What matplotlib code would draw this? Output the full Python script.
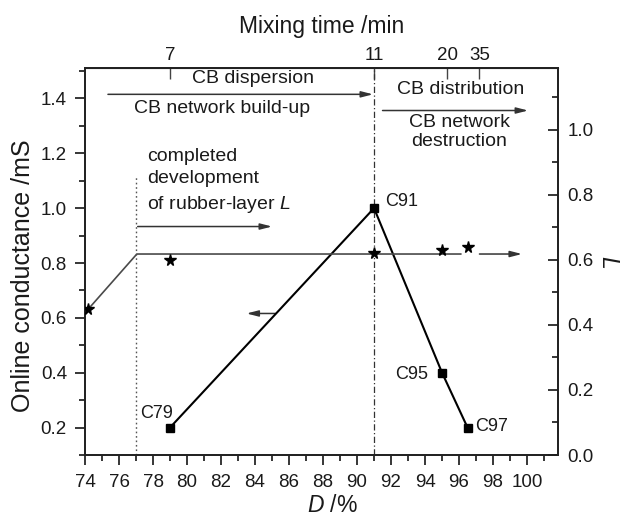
import matplotlib
matplotlib.use("Agg")
import matplotlib.pyplot as plt
from matplotlib.ticker import MultipleLocator

plt.rcParams['font.family'] = ['Liberation Sans', 'DejaVu Sans']
plt.rcParams['mathtext.fontset'] = 'custom'
plt.rcParams['mathtext.it'] = 'Liberation Sans:italic'
plt.rcParams['mathtext.rm'] = 'Liberation Sans'

# ---- data ----
D_cond = [79, 91, 95, 96.5]
conductance = [0.2, 1.0, 0.4, 0.2]
sample_labels = ["C79", "C91", "C95", "C97"]

D_L = [74.2, 79, 91, 95, 96.5]
L_values = [0.45, 0.60, 0.62, 0.63, 0.64]
L_trend_D = [74.3, 77.05, 96.1]
L_trend = [0.455, 0.618, 0.618]

mix_time_pos = [79, 91, 95.3, 97.2]
mix_time_labels = ["7", "11", "20", "35"]

TXT = '#1a1a1a'

fig = plt.figure(figsize=(6.25, 5.22), dpi=100)
ax = fig.add_axes([85/625, 1-455/522, (558-85)/625, (455-68)/522])
axr = ax.twinx()

ax.set_xlim(74, 101.82)
ax.set_ylim(0.1, 1.511)
axr.set_ylim(0, 1.19)

# conductance
ax.plot(D_cond, conductance, color='black', lw=1.5, marker='s', ms=5.5,
        mec='black', mfc='black', zorder=5)
# L values
axr.plot(L_trend_D, L_trend, color='#4a4a4a', lw=1.2, zorder=3)
axr.plot(D_L, L_values, ls='none', marker='*', ms=8.5, color='black', zorder=6)

# vertical lines
ax.plot([77, 77], [0.1, 1.112], color='#555555', lw=1.0, ls=(0, (1.2, 2)), zorder=2)
ax.axvline(91, color='#333333', lw=0.9, ls=(0, (5, 2, 1, 2)), zorder=2)

def arrow(a, x0, x1, y, color='#333333'):
    a.annotate('', xy=(x1, y), xytext=(x0, y),
               arrowprops=dict(arrowstyle='-|>,head_length=0.7,head_width=0.18',
                               color=color, lw=1.1, shrinkA=0, shrinkB=0))

arrow(ax, 75.35, 90.94, 1.415)
arrow(ax, 91.5, 100.06, 1.356)
arrow(ax, 77.1, 85.0, 0.933)
arrow(ax, 85.2, 83.5, 0.616)
arrow(axr, 97.2, 99.7, 0.618)

fs_ann = 14
ax.text(83.9, 1.472, "CB dispersion", ha='center', va='center', fontsize=fs_ann, color=TXT)
ax.text(82.04, 1.364, "CB network build-up", ha='center', va='center', fontsize=fs_ann, color=TXT)
ax.text(96.1, 1.432, "CB distribution", ha='center', va='center', fontsize=fs_ann, color=TXT)
ax.text(96.0, 1.278, "CB network\ndestruction", ha='center', va='center', fontsize=fs_ann,
        color=TXT, linespacing=1.2)
ax.text(77.65, 1.098, "completed\ndevelopment\nof rubber-layer $L$", ha='left', va='center',
        fontsize=fs_ann, color=TXT, linespacing=1.42)

label_pos = [(78.2, 0.252), (92.62, 1.026), (93.24, 0.393), (97.91, 0.204)]
for lab, (x, y) in zip(sample_labels, label_pos):
    ax.text(x, y, lab, ha='center', va='center', fontsize=13, color=TXT)

# ticks
ax.xaxis.set_minor_locator(MultipleLocator(1))
ax.yaxis.set_minor_locator(MultipleLocator(0.1))
axr.yaxis.set_minor_locator(MultipleLocator(0.1))
ax.set_xticks(range(74, 101, 2))
ax.set_yticks([0.2, 0.4, 0.6, 0.8, 1.0, 1.2, 1.4])
ax.set_yticklabels(['0.2', '0.4', '0.6', '0.8', '1.0', '1.2', '1.4'])
axr.set_yticks([0.0, 0.2, 0.4, 0.6, 0.8, 1.0])
axr.set_yticklabels(['0.0', '0.2', '0.4', '0.6', '0.8', '1.0'])

ax.tick_params(axis='both', which='major', direction='out', length=7, width=1.1,
               labelsize=13.5, labelcolor=TXT, pad=6)
ax.tick_params(axis='both', which='minor', direction='out', length=4, width=1.1)
ax.tick_params(axis='x', which='major', pad=7)
axr.tick_params(axis='y', which='major', direction='in', length=7, width=1.1,
                labelsize=13.5, labelcolor=TXT, pad=7)
axr.tick_params(axis='y', which='minor', direction='in', length=4, width=1.1)

for a in (ax, axr):
    for s in a.spines.values():
        s.set_linewidth(1.3)
        s.set_color('#222222')

top = ax.secondary_xaxis('top')
top.set_xticks(mix_time_pos)
top.set_xticklabels(mix_time_labels)
top.tick_params(axis='x', which='major', direction='in', length=8, width=1.0,
                labelsize=13.5, labelcolor=TXT, pad=3, color='#444444')
top.xaxis.set_minor_locator(matplotlib.ticker.NullLocator())
top.set_xlabel("Mixing time /min", fontsize=16.5, color=TXT, labelpad=10)

ax.set_xlabel("$D$ /%", fontsize=16.5, color=TXT)
ax.xaxis.set_label_coords((332-85)/473, -(494-455)/387)
ax.set_ylabel("Online conductance /mS", fontsize=18, color=TXT)
ax.yaxis.set_label_coords(-(85-35)/473, (455-276)/387)
axr.set_ylabel("$L$", fontsize=16.5, color=TXT, rotation=270, va='center')
axr.yaxis.set_label_coords(1 + (609-558)/473, 0.5)

fig.savefig("out.png", dpi=100)
